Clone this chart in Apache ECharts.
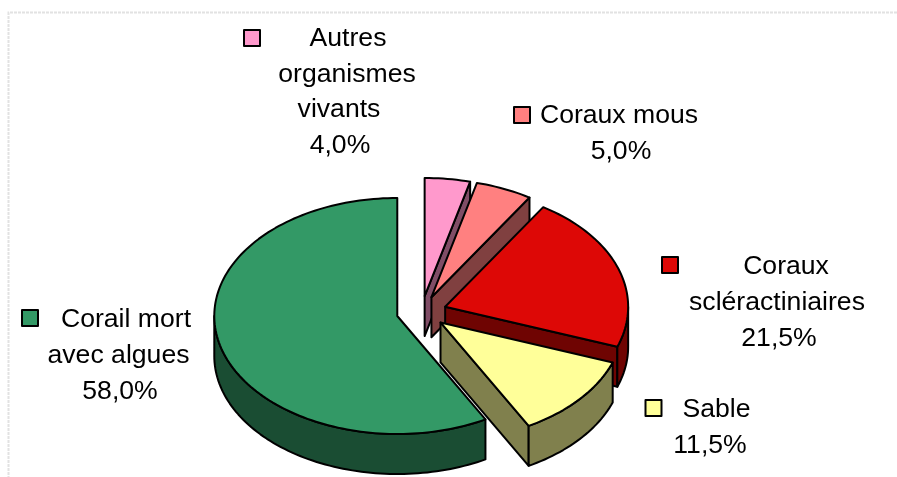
<!DOCTYPE html>
<html><head><meta charset="utf-8">
<style>html,body{margin:0;padding:0;background:#fff}#c{width:897px;height:477px}</style>
<script src="https://cdn.jsdelivr.net/npm/echarts@6/dist/echarts.min.js"></script>
</head><body><div id="c"></div>
<script>
const categories = ['Autres organismes vivants','Coraux mous','Coraux scléractiniaires','Sable','Corail mort avec algues'];
const values = [4.0, 5.0, 21.5, 11.5, 58.0];
const topColors = ['#FF99CC','#FF8080','#DD0806','#FFFF99','#339966'];
const sideColors = ['#804D66','#804040','#6F0402','#80804D','#1A4D33'];

// label layout: key square, then one [text, centreX, centreY] per line
const labelLayout = [
  {key:[244,30], lines:[['Autres',348,39],['organismes',347,75],['vivants',339,110],[null,340,145.5]]},
  {key:[514,107], lines:[['Coraux mous',619,116],[null,621,152]]},
  {key:[662,257], lines:[['Coraux',786,266.5],['scléractiniaires',777,303],[null,779,339]]},
  {key:[645.5,400], lines:[['Sable',716.5,410],[null,710,446]]},
  {key:[22,310], lines:[['Corail mort',126,320],['avec algues',118.5,356],[null,120,392]]}
];

const CX=421.5, CY=312, RX=183, RY=118, DEPTH=40, EXPLODE=25, TILT=RY/RX;
const total = values.reduce((a,b)=>a+b,0);
const fmt = v => v.toFixed(1).replace('.',',')+'%';
const STROKE = {stroke:'#000',lineWidth:2,lineJoin:'round'};

function renderItem(params, api){
  const i = params.dataIndex;
  const v = api.value(0);
  let before = 0; for(let k=0;k<i;k++) before += values[k];
  const a0 = before/total*360, a1 = (before+v)/total*360, mid=(a0+a1)/2*Math.PI/180;
  const ox = CX+EXPLODE*Math.sin(mid), oy = CY-EXPLODE*TILT*Math.cos(mid);
  const pt = (deg,dy=0)=>{const r=deg*Math.PI/180;return [ox+RX*Math.sin(r),oy-RY*Math.cos(r)+dy];};
  const arc = (from,to,dy=0)=>{const n=Math.max(2,Math.ceil(Math.abs(to-from)/1.5));const o=[];for(let k=0;k<=n;k++)o.push(pt(from+(to-from)*k/n,dy));return o;};
  const poly=(points,fill)=>({type:'polygon',shape:{points},style:Object.assign({fill},STROKE)});
  const ch=[];
  if(a1<180){ ch.push(poly([[ox,oy],pt(a1),pt(a1,DEPTH),[ox,oy+DEPTH]],sideColors[i])); }
  const rf=Math.max(a0,90), rt=Math.min(a1,270);
  if(rt>rf){ ch.push(poly(arc(rf,rt).concat(arc(rt,rf,DEPTH)),sideColors[i])); }
  ch.push(poly([[ox,oy]].concat(arc(a0,a1)),topColors[i]));
  const L=labelLayout[i];
  ch.push({type:'rect',shape:{x:L.key[0],y:L.key[1],width:16,height:16},style:{fill:topColors[i],stroke:'#000',lineWidth:2,lineJoin:'round'}});
  L.lines.forEach(l=>ch.push({type:'text',x:l[1],y:l[2],style:{text:l[0]===null?fmt(v):l[0],fill:'#000',font:'26.6px "Liberation Sans"',align:'center',verticalAlign:'middle'}}));
  return {type:'group',children:ch};
}

const chart = echarts.init(document.getElementById('c'),null,{renderer:'canvas'});
chart.setOption({
  animation:false,
  backgroundColor:'#fff',
  graphic:[{type:'polyline',shape:{points:[[897,12.5],[8.5,12.5],[8.5,477]]},style:{stroke:'#e2e2e2',lineWidth:2,lineDash:[3,1],fill:null},silent:true}],
  series:[{type:'custom',coordinateSystem:'none',renderItem,clip:false,silent:true,
    data:values.map((v,i)=>({name:categories[i],value:[v,i]}))}]
});
</script></body></html>
